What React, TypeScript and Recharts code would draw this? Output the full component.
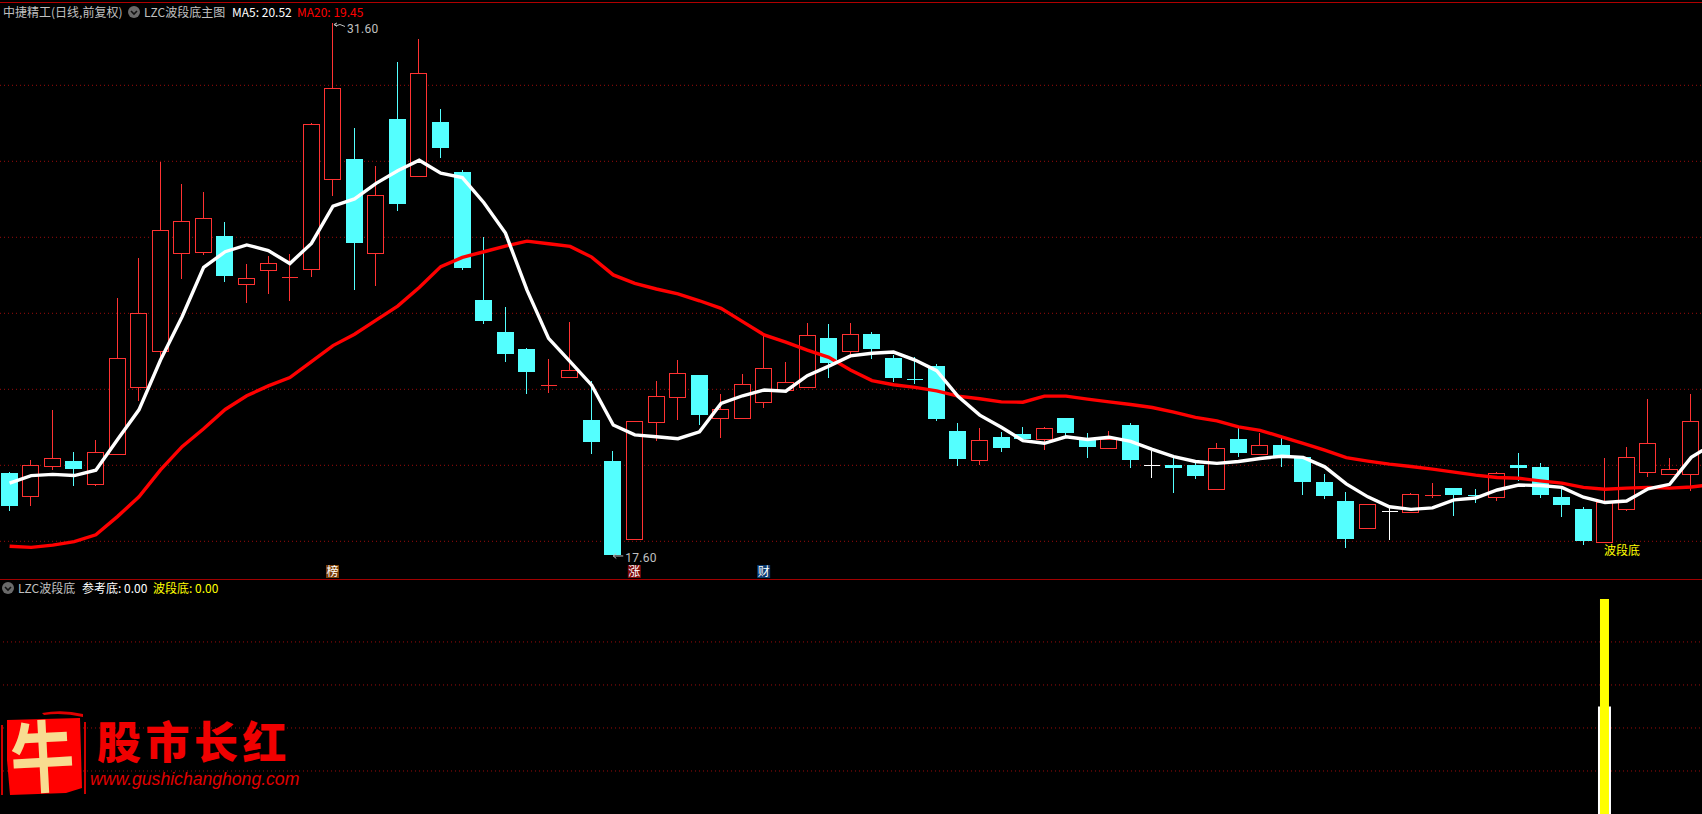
import React from "react";
import { ComposedChart, Bar, Line, XAxis, YAxis, CartesianGrid, ReferenceDot } from "recharts";

const opens = [19.76,19.16,19.95,20.07,19.48,20.25,22.03,22.96,25.56,25.58,25.99,24.74,25.11,24.91,25.13,27.50,28.02,25.56,29.07,27.58,28.99,27.68,24.31,23.47,23.02,22.07,22.29,21.15,20.07,18.03,21.11,21.77,22.34,21.21,21.21,21.63,21.94,22.03,23.31,22.98,23.42,22.78,22.24,22.57,20.86,20.11,20.70,20.78,20.66,21.21,20.64,20.42,21.02,19.96,19.97,19.97,19.34,20.65,20.27,20.49,20.18,19.52,19.02,18.32,18.75,18.74,19.17,19.36,19.17,19.13,19.97,19.92,19.13,18.81,17.95,18.82,19.79,19.73,19.74];
const closes = [18.89,19.96,20.14,19.86,20.30,22.78,23.96,26.14,26.38,26.46,24.94,24.88,25.28,24.91,28.93,29.88,25.81,27.07,26.84,30.28,28.31,25.15,23.76,22.89,22.42,22.07,22.46,20.57,17.60,21.12,21.78,22.38,21.28,21.43,22.09,22.51,22.14,23.38,22.65,23.41,23.02,22.26,22.24,21.18,20.13,20.62,20.42,20.65,20.93,20.81,20.44,20.64,20.10,19.96,19.89,19.68,20.41,20.28,20.49,20.21,19.52,19.15,18.02,18.93,18.75,19.20,19.17,19.18,19.17,19.75,19.89,19.18,18.92,17.97,18.99,20.17,20.54,19.86,21.12];
const highs = [19.79,20.10,21.42,20.31,20.63,24.36,25.41,27.93,27.36,27.15,26.36,25.26,25.47,25.52,28.96,31.60,28.84,27.84,30.57,31.18,29.34,27.73,25.97,24.12,23.04,22.76,23.72,22.17,20.34,21.12,22.17,22.73,22.34,21.84,22.36,23.39,22.68,23.71,23.68,23.71,23.47,22.86,22.80,22.63,21.07,20.94,20.84,20.97,20.97,21.21,20.80,20.86,21.07,20.34,20.18,20.10,20.54,20.94,20.81,20.68,20.18,19.73,19.26,18.93,18.86,19.23,19.49,19.36,19.34,19.78,20.28,20.02,19.34,18.86,20.15,20.44,21.71,20.15,21.84];
const lows = [18.77,18.89,19.84,19.42,19.42,20.25,21.65,22.76,24.86,25.49,24.78,24.24,24.48,24.29,24.92,27.06,24.57,24.69,26.65,27.58,28.05,25.10,23.68,22.68,21.84,21.86,22.29,20.26,17.60,18.03,20.60,21.15,21.02,20.68,21.21,21.47,21.94,22.03,22.26,22.86,22.76,22.15,22.10,21.13,19.94,19.97,20.31,20.65,20.36,20.71,20.15,20.39,19.89,19.63,19.23,19.60,19.34,20.18,20.27,19.92,19.18,19.07,17.78,18.32,17.99,18.71,19.10,18.63,18.97,19.02,19.55,19.10,18.60,17.86,17.92,18.76,19.65,19.73,19.28];
const ma5 = [19.49,19.69,19.72,19.69,19.83,20.63,21.42,22.73,23.87,25.17,25.58,25.76,25.61,25.27,25.80,26.78,26.97,27.38,27.71,27.99,27.65,27.53,26.87,26.07,24.57,23.30,22.69,22.07,21.02,20.76,20.71,20.66,20.84,21.59,21.79,21.94,21.91,22.32,22.57,22.84,22.91,22.94,22.73,22.45,21.77,21.28,20.96,20.61,20.54,20.71,20.64,20.70,20.59,20.38,20.19,20.06,20.01,20.06,20.14,20.20,20.17,19.92,19.47,19.13,18.87,18.80,18.84,19.05,19.10,19.31,19.44,19.43,19.38,19.12,18.98,19.02,19.34,19.46,20.17,20.52];
const ma20 = [17.83,17.80,17.86,17.95,18.13,18.61,19.13,19.84,20.45,20.92,21.43,21.79,22.05,22.27,22.69,23.11,23.41,23.78,24.15,24.64,25.19,25.43,25.58,25.73,25.86,25.79,25.72,25.44,24.97,24.75,24.60,24.47,24.29,24.09,23.74,23.39,23.20,22.99,22.80,22.47,22.19,22.08,22.01,21.92,21.78,21.71,21.63,21.62,21.78,21.78,21.70,21.63,21.56,21.48,21.36,21.22,21.13,20.97,20.88,20.71,20.54,20.36,20.16,20.07,19.99,19.93,19.86,19.78,19.70,19.64,19.62,19.55,19.49,19.38,19.33,19.36,19.38,19.36,19.39,19.45];

const whiteDoji = [53, 64];
const cyanDoji = [42, 68];
const priceGrid = [17.96, 19.96, 21.96, 23.96, 25.96, 27.96, 29.96];
const lowerGrid = [20, 40, 60, 80];
const highIndex = 15, highValue = 31.6, lowIndex = 28, lowValue = 17.6;
const waveIndex = 74;
const referenceBottom = 50;
const waveBottom = 100;
const newsBadges = [
  { i: 15, text: "榜", color: "#7a3f08" },
  { i: 29, text: "涨", color: "#7d0a0a" },
  { i: 35, text: "财", color: "#0b3a6e" },
];

const RED = "#ff3232";
const CYAN = "#54ffff";
const GRID = "#9c0c0c";
const CJK = '"Noto Sans CJK SC", sans-serif';

const rows = ma5.map((m, i) => ({
  i,
  ma5: m,
  ma20: ma20[i],
  open: opens[i],
  close: closes[i],
  high: highs[i],
  low: lows[i],
  range: i < opens.length ? [lows[i], highs[i]] : undefined,
}));
const lowerRows = [{ i: waveIndex, refBottom: referenceBottom, wave: waveBottom }];

function Candle(props: any) {
  const { x, y, width, height, payload } = props;
  if (!payload || payload.open === undefined || !height) return null;
  const { open, close, high, low, i } = payload;
  const unit = height / (high - low);
  const cx = Math.floor(x + width / 2) + 0.5;
  const top = y + (high - Math.max(open, close)) * unit;
  const bottom = y + (high - Math.min(open, close)) * unit;
  const yLow = y + height;
  const isDoji = open === close;
  const color = isDoji
    ? whiteDoji.includes(i) ? "#ffffff" : cyanDoji.includes(i) ? CYAN : RED
    : open > close ? CYAN : RED;
  const left = cx - 8;
  if (isDoji) {
    const ry = Math.round(top) + 0.5;
    return (
      <g shapeRendering="crispEdges" stroke={color}>
        <line x1={cx} x2={cx} y1={y} y2={yLow} />
        <line x1={left} x2={cx + 8} y1={ry} y2={ry} />
      </g>
    );
  }
  const rt = Math.round(top);
  const rb = Math.round(bottom);
  return (
    <g shapeRendering="crispEdges">
      <line x1={cx} x2={cx} y1={y} y2={rt} stroke={color} />
      <line x1={cx} x2={cx} y1={rb} y2={yLow} stroke={color} />
      {open > close ? (
        <rect x={left - 0.5} y={rt} width={17} height={Math.max(rb - rt, 1)} fill={color} />
      ) : (
        <rect x={left} y={rt + 0.5} width={16} height={Math.max(rb - rt, 1)} fill="#000" stroke={color} />
      )}
    </g>
  );
}

const highLabel = (text: string) => (p: any) => (
  <g>
    <path d={`M${p.cx + 4} ${p.cy} l-3 1.5 l3 2 m-3 -2 l3 1 l3 -1 l5 2`} stroke="#c0c0c0" strokeWidth={1} fill="none" />
    <text x={p.cx + 14} y={p.cy + 10} fontSize={12} fill="#c0c0c0" fontFamily="Roboto, sans-serif" letterSpacing={0.3}>
      {text}
    </text>
  </g>
);

const lowLabel = (text: string) => (p: any) => (
  <g>
    <path d={`M${p.cx + 3} ${p.cy - 1.5} L${p.cx} ${p.cy + 1} L${p.cx + 3} ${p.cy + 3.5} M${p.cx} ${p.cy + 1} h10`} stroke="#c0c0c0" strokeWidth={1} fill="none" />
    <text x={p.cx + 12} y={p.cy + 7} fontSize={12} fill="#c0c0c0" fontFamily="Roboto, sans-serif" letterSpacing={0.3}>
      {text}
    </text>
  </g>
);

const waveLabel = (p: any) => (
  <text x={p.cx - 1} y={554.5} fontSize={12} fill="#ffff00" fontFamily={CJK}>波段底</text>
);

const badge = (b: { text: string; color: string }) => (p: any) => (
  <g>
    <rect x={p.cx - 7} y={565} width={13} height={13} fill={b.color} />
    <text x={p.cx - 0.5} y={576} fontSize={12} textAnchor="middle" fill="#fff" fontFamily={CJK}>{b.text}</text>
  </g>
);

const Arrow = ({ x, y }: { x: number; y: number }) => (
  <svg style={{ position: "absolute", left: x - 7, top: y - 7 }} width={14} height={14}>
    <circle cx={7} cy={7} r={6} fill="#6a6a6a" />
    <path d="M4 6 L7 9 L10 6" stroke="#111" strokeWidth={1.6} fill="none" />
  </svg>
);

const Label = ({ x, y, color = "#c0c0c0", children }: any) => (
  <span style={{ position: "absolute", left: x, top: y, color, fontFamily: CJK, fontSize: 12, lineHeight: "14px", whiteSpace: "nowrap" }}>
    {children}
  </span>
);

function Logo() {
  return (
    <>
      <svg style={{ position: "absolute", left: 0, top: 680 }} width={100} height={130}>
        <path d="M42 33 Q62 29 83 34 L83 37 Q62 32 44 35 Z" fill="#e00000" />
        <path d="M1 45 h2 v70 h-2 z M84 42 h2 v72 h-2 z" fill="#d00000" />
        <path d="M7 40 L80 38 L82 108 L66 113 L10 115 L7 80 Z" fill="#ff0000" />
        <text x={0} y={0} fontSize={78} fontWeight={700} textAnchor="middle" fill="#f8dc90" fontFamily={CJK} transform="translate(44 106) rotate(-3) scale(0.82 1)">牛</text>
      </svg>
      <span style={{ position: "absolute", left: 97, top: 710, color: "#f00000", fontFamily: CJK, fontWeight: 900, fontSize: 44, letterSpacing: 4.5, lineHeight: "60px", whiteSpace: "nowrap" }}>
        股市长红
      </span>
      <span style={{ position: "absolute", left: 90, top: 769, color: "#e00000", fontFamily: '"Liberation Sans", sans-serif', fontStyle: "italic", fontSize: 17.6, lineHeight: "20px", whiteSpace: "nowrap" }}>
        www.gushichanghong.com
      </span>
    </>
  );
}

export default function App() {
  return (
    <div style={{ position: "absolute", left: 0, top: 0, width: 1702, height: 814, background: "#000", overflow: "hidden" }}>
      <div style={{ position: "absolute", left: 0, top: 2, width: 1702, height: 1, background: "#b00000" }} />
      <ComposedChart width={1702} height={579} data={rows} margin={{ top: 0, right: 0, bottom: 0, left: 0 }} style={{ position: "absolute", left: 0, top: 0 }}>
        <CartesianGrid vertical={false} horizontalValues={priceGrid} stroke={GRID} strokeDasharray="1 3" />
        <XAxis dataKey="i" type="number" hide domain={[-0.445, 78.5]} allowDataOverflow />
        <YAxis type="number" hide domain={[16.968, 32.205]} allowDataOverflow />
        <Bar dataKey="range" barSize={17} shape={Candle} isAnimationActive={false} />
        <Line dataKey="ma20" stroke="#ff0000" strokeWidth={3.4} dot={false} activeDot={false} isAnimationActive={false} />
        <Line dataKey="ma5" stroke="#ffffff" strokeWidth={3.4} dot={false} activeDot={false} isAnimationActive={false} />
        <ReferenceDot x={highIndex} y={highValue} shape={highLabel("31.60")} />
        <ReferenceDot x={lowIndex} y={lowValue} shape={lowLabel("17.60")} />
        <ReferenceDot x={waveIndex} y={lowValue} shape={waveLabel} />
        {newsBadges.map((b) => (
          <ReferenceDot key={b.i} x={b.i} y={lowValue} shape={badge(b)} />
        ))}
      </ComposedChart>
      <div style={{ position: "absolute", left: 0, top: 579, width: 1702, height: 1, background: "#a00000" }} />
      <ComposedChart width={1702} height={234} data={lowerRows} margin={{ top: 0, right: 0, bottom: 0, left: 0 }} style={{ position: "absolute", left: -1, top: 580 }}>
        <CartesianGrid vertical={false} horizontalValues={lowerGrid} stroke={GRID} strokeDasharray="1 3" />
        <XAxis xAxisId="a" dataKey="i" type="number" hide domain={[-0.445, 78.5]} allowDataOverflow />
        <XAxis xAxisId="b" dataKey="i" type="number" hide domain={[-0.445, 78.5]} allowDataOverflow />
        <YAxis type="number" hide domain={[0, 108.8]} allowDataOverflow />
        <Bar xAxisId="a" dataKey="refBottom" barSize={13} fill="#ffffff" isAnimationActive={false} />
        <Bar xAxisId="b" dataKey="wave" barSize={9} fill="#ffff00" isAnimationActive={false} />
      </ComposedChart>
      <Label x={3} y={5}>中捷精工(日线,前复权)</Label>
      <Arrow x={134} y={12} />
      <Label x={144} y={5}>LZC波段底主图</Label>
      <Label x={232} y={5} color="#ffffff">MA5: 20.52</Label>
      <Label x={297} y={5} color="#ff0000">MA20: 19.45</Label>
      <Arrow x={8} y={588} />
      <Label x={18} y={581}>LZC波段底</Label>
      <Label x={82} y={581} color="#ffffff">参考底: 0.00</Label>
      <Label x={153} y={581} color="#ffff00">波段底: 0.00</Label>
      <Logo />
    </div>
  );
}
